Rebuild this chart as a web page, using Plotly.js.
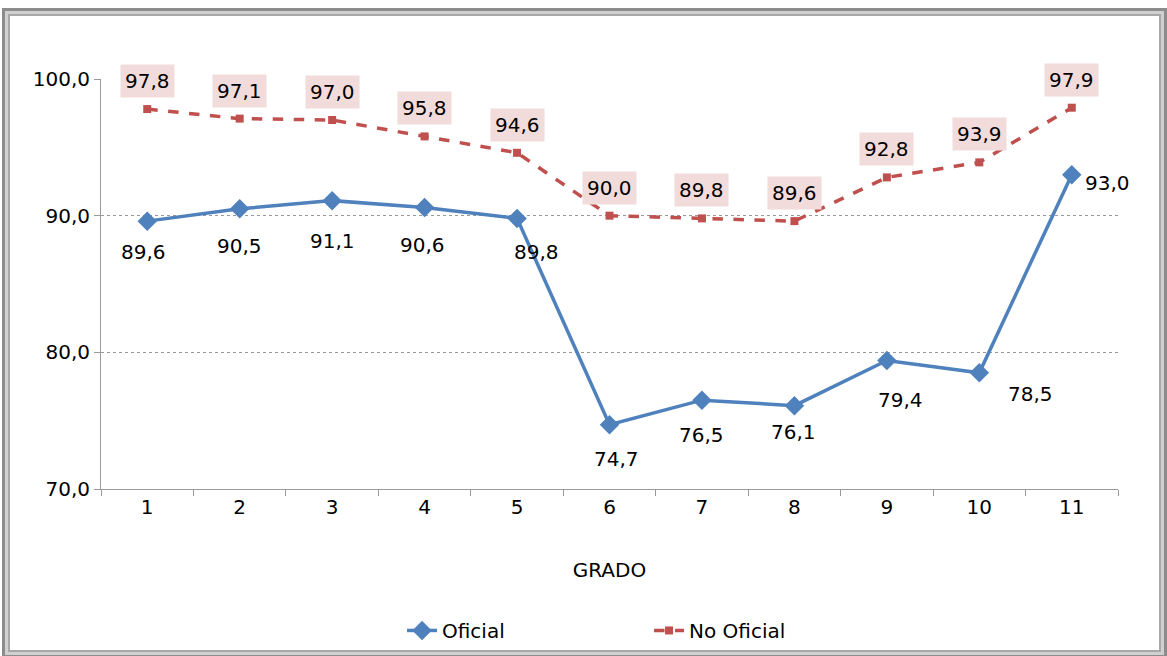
<!DOCTYPE html>
<html>
<head>
<meta charset="utf-8">
<script src="https://cdn.plot.ly/plotly-3.0.1.min.js"></script>
<style>
  html, body { margin:0; padding:0; background:#fff; }
  #frame { position:absolute; left:2px; top:8px; width:1159px; height:644px;
           border:3px solid #8c8c8c; box-shadow: inset 0 0 0 3px #d0d0d0, inset 0 0 0 5px #a8a8a8; }
  #chart { position:absolute; left:0; top:0; width:1167px; height:656px; }
</style>
</head>
<body>
<div id="frame"></div>
<div id="chart"></div>
<script>
const grados = ['1','2','3','4','5','6','7','8','9','10','11'];
const oficial = [89.6, 90.5, 91.1, 90.6, 89.8, 74.7, 76.5, 76.1, 79.4, 78.5, 93.0];
const noOficial = [97.8, 97.1, 97.0, 95.8, 94.6, 90.0, 89.8, 89.6, 92.8, 93.9, 97.9];
const yTicks = [70, 80, 90, 100];

// label offsets in pixels (styling only)
const oficialOffsets = [[-4,31],[0,37],[0,40],[-2,38],[19,34],[7,34],[0,35],[-1,26],[14,39],[51,21],[36,8]];

const fmt = v => v.toFixed(1).replace('.', ',');
const blue = '#4f81bd', red = '#c0504d';
const font = {family:'DejaVu Sans, Liberation Sans, Arial, sans-serif', size:20, color:'#000'};

const traces = [
  {x: grados, y: oficial, name:'Oficial', type:'scatter', mode:'lines+markers',
   line:{color:blue, width:3.5}, marker:{symbol:'diamond', size:15, color:blue}},
  {x: grados, y: noOficial, name:'No Oficial', type:'scatter', mode:'lines+markers',
   line:{color:red, width:3.5, dash:'dash'}, marker:{symbol:'square', size:8, color:red}}
];

const annotations = [];
oficial.forEach((v,i) => annotations.push({
  x: i, y: v, xref:'x', yref:'y', text: fmt(v), showarrow:true, arrowcolor:'rgba(0,0,0,0)',
  ax: oficialOffsets[i][0], ay: oficialOffsets[i][1], font: font
}));
noOficial.forEach((v,i) => annotations.push({
  x: i, y: v, xref:'x', yref:'y', text: fmt(v), showarrow:true, arrowcolor:'rgba(0,0,0,0)',
  ax: 0, ay: -28, font: font, bgcolor:'#f2dcdb', borderpad:4
}));

const layout = {
  width:1167, height:656,
  paper_bgcolor:'rgba(0,0,0,0)', plot_bgcolor:'rgba(0,0,0,0)',
  margin:{l:101, r:49, t:79, b:167, autoexpand:false},
  separators:',.',
  font: font,
  showlegend:true,
  legend:{orientation:'h', x:0.296, xanchor:'left', y:-0.345, yanchor:'middle',
          font:font, entrywidth:202, entrywidthmode:'pixels', traceorder:'normal'},
  xaxis:{type:'category', range:[-0.5,10.5], tickson:'boundaries', ticks:'outside', ticklen:6,
         tickcolor:'#999', showline:true, linecolor:'#999', linewidth:1, showgrid:false, automargin:false,
         tickfont:font, title:{text:'GRADO', font:font, standoff:44}},
  yaxis:{range:[70,100], tickvals:yTicks, tickformat:'.1f', ticks:'outside', ticklen:6, automargin:false,
         tickcolor:'#999', showline:true, linecolor:'#999', linewidth:1,
         showgrid:true, gridcolor:'#999', griddash:'dot', gridwidth:1, zeroline:false, tickfont:font},
  annotations: annotations
};

Plotly.newPlot('chart', traces, layout, {displayModeBar:false, staticPlot:true});
</script>
</body>
</html>
